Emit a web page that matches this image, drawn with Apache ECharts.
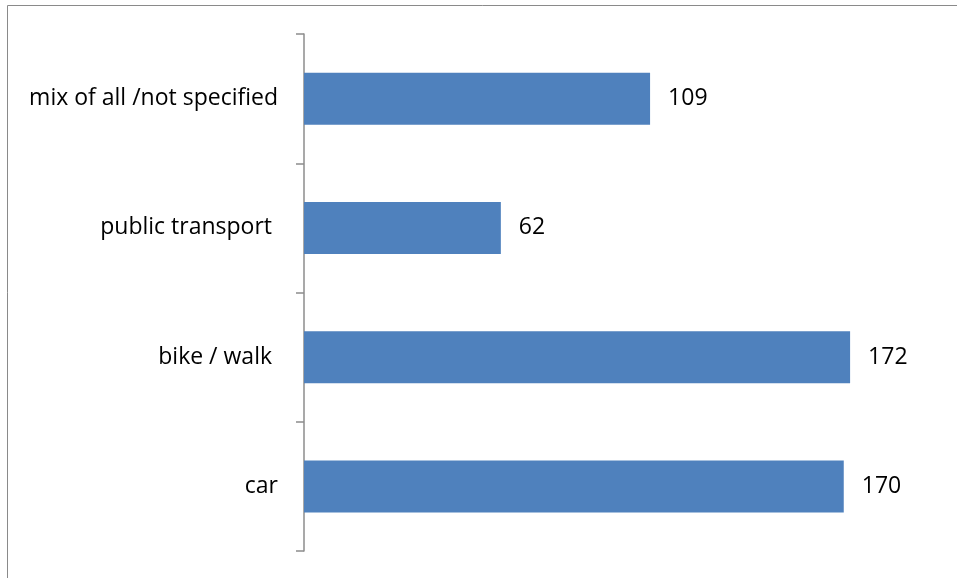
<!DOCTYPE html>
<html><head><meta charset="utf-8">
<script src="https://cdn.jsdelivr.net/npm/echarts@6/dist/echarts.min.js"></script>
<style>html,body{margin:0;padding:0;background:#fff}#c{width:957px;height:578px}</style>
</head><body><div id="c"></div>
<script>
const categories = ['car', 'bike / walk ', 'public transport ', 'mix of all /not specified'];
const values = [170, 172, 62, 109];

const chart = echarts.init(document.getElementById('c'));
chart.setOption({
  animation: false,
  backgroundColor: '#fff',
  graphic: [{
    type: 'rect', silent: true,
    shape: { x: 7.5, y: 5.5, width: 1000, height: 1000 },
    style: { fill: 'none', stroke: '#8a8a8a', lineWidth: 1 }
  }],
  grid: { left: 304, right: 18, top: 34, bottom: 27, containLabel: false },
  xAxis: {
    type: 'value', min: 0, max: 200, show: false
  },
  yAxis: {
    type: 'category', data: categories,
    axisLine: { show: true, lineStyle: { color: '#8c8c8c', width: 1.5 } },
    axisTick: { show: true, alignWithLabel: false, length: 8, lineStyle: { color: '#8c8c8c', width: 1.5 } },
    axisLabel: { margin: 26, color: '#000', fontFamily: 'Open Sans', fontSize: 23 }
  },
  series: [{
    type: 'bar', data: values, barWidth: 52,
    itemStyle: { color: '#4f81bd' },
    label: { show: true, position: 'right', distance: 18, color: '#000', fontFamily: 'Open Sans', fontSize: 23 }
  }]
});
</script></body></html>
